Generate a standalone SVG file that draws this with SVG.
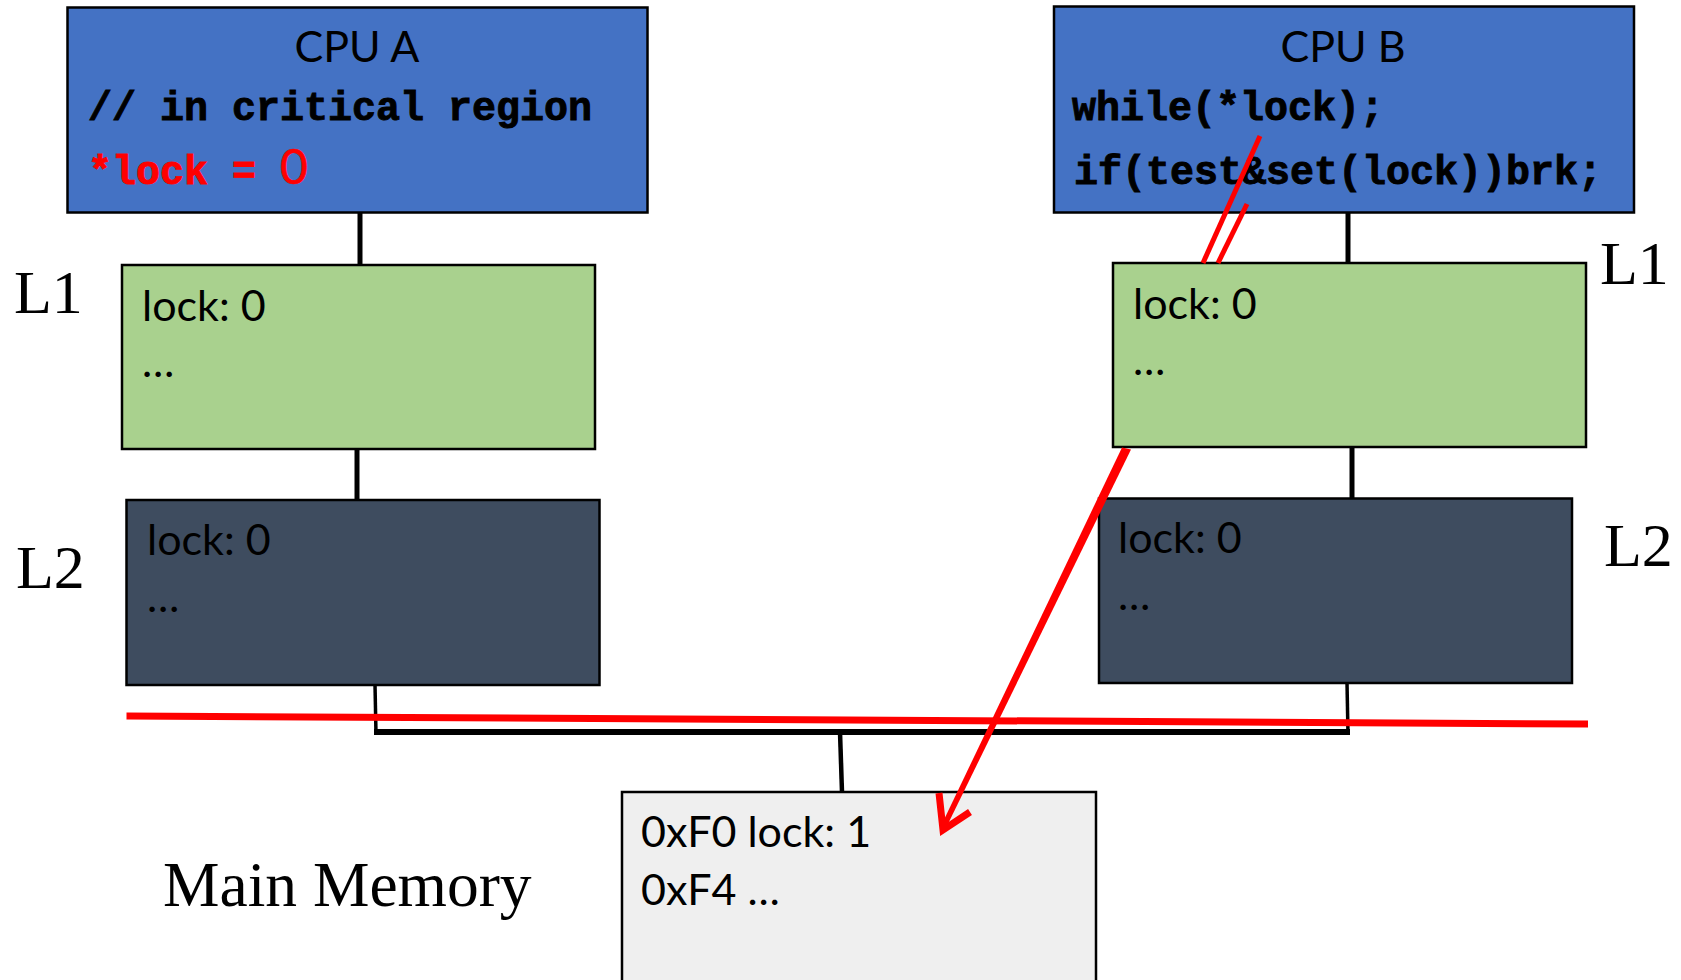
<svg xmlns="http://www.w3.org/2000/svg" width="1681" height="980" viewBox="0 0 1681 980">
  <style>
    .box { stroke: #000; stroke-width: 2.5; }
    .cpu { fill: #4472C4; }
    .l1 { fill: #A9D18E; }
    .l2 { fill: #3E4C5F; }
    .mem { fill: #EFEFEF; }
    .sans { font-family: Lato, "Open Sans", sans-serif; font-size: 43px; fill: #000; }
    .code { font-family: "Liberation Mono", "DejaVu Sans Mono", monospace; font-weight: bold; font-size: 40px; fill: #000; stroke: #000; stroke-width: 0.9; }
    .code-red { fill: #FF0000; stroke: #FF0000; }
    .serif { font-family: "Liberation Serif", "DejaVu Serif", serif; font-size: 62px; fill: #000; }
    .wire { stroke: #000; fill: none; }
    .red { stroke: #FF0000; fill: none; stroke-linecap: butt; }
  </style>

  <!-- bus and cache links -->
  <g id="connectors">
    <line class="wire" x1="360" y1="213" x2="360" y2="265" stroke-width="5"/>
    <line class="wire" x1="357" y1="449" x2="357" y2="500" stroke-width="5"/>
    <line class="wire" x1="1348" y1="213" x2="1348" y2="263" stroke-width="5"/>
    <line class="wire" x1="1352" y1="447" x2="1352" y2="498" stroke-width="5"/>
    <line class="wire" x1="375" y1="685" x2="376" y2="734" stroke-width="3.5"/>
    <line class="wire" x1="1347" y1="683" x2="1348" y2="734" stroke-width="3.5"/>
    <line class="wire" x1="374" y1="732" x2="1350" y2="732" stroke-width="6"/>
    <line class="wire" x1="840" y1="732" x2="842" y2="792" stroke-width="4.5"/>
  </g>

  <g id="cpu-a">
    <rect class="box cpu" x="67.5" y="7.5" width="580" height="205"/>
    <text class="sans" x="357" y="62" text-anchor="middle">CPU A</text>
    <text class="code" x="88" y="120">// in critical region</text>
    <text class="code code-red" x="88" y="184">*lock = <tspan style="font-family: Lato, 'Open Sans', sans-serif; font-weight: normal; font-size: 48px; stroke-width: 0.6;">0</tspan></text>
  </g>

  <g id="cpu-b">
    <rect class="box cpu" x="1054" y="6.5" width="580" height="206"/>
    <text class="sans" x="1343" y="62" text-anchor="middle">CPU B</text>
    <text class="code" x="1072" y="120">while(*lock);</text>
    <text class="code" x="1074" y="184">if(test&amp;set(lock))brk;</text>
  </g>

  <g id="l1-a">
    <rect class="box l1" x="122" y="265" width="473" height="184"/>
    <text class="sans" x="142" y="321">lock: 0</text>
    <text class="sans" x="142" y="377">…</text>
  </g>

  <g id="l2-a">
    <rect class="box l2" x="126.5" y="500" width="473" height="185"/>
    <text class="sans" x="147" y="555">lock: 0</text>
    <text class="sans" x="147" y="612">…</text>
  </g>

  <g id="l1-b">
    <rect class="box l1" x="1113" y="263" width="473" height="184"/>
    <text class="sans" x="1133" y="319">lock: 0</text>
    <text class="sans" x="1133" y="375">…</text>
  </g>

  <g id="l2-b">
    <rect class="box l2" x="1099" y="498.5" width="473" height="184.5"/>
    <text class="sans" x="1118" y="553">lock: 0</text>
    <text class="sans" x="1118" y="610">…</text>
  </g>

  <g id="main-memory">
    <rect class="box mem" x="622" y="792" width="474" height="200"/>
    <text class="sans" x="641" y="847">0xF0 lock: 1</text>
    <text class="sans" x="641" y="905">0xF4 …</text>
  </g>

  <!-- level labels -->
  <g id="labels">
    <text class="serif" x="14" y="313">L1</text>
    <text class="serif" x="16" y="588">L2</text>
    <text class="serif" x="1600" y="284">L1</text>
    <text class="serif" x="1604" y="566">L2</text>
    <text class="serif" x="163" y="906" style="font-size: 63.5px;">Main Memory</text>
  </g>

  <!-- red annotations: bus line and the lock read path -->
  <g id="annotations">
    <line class="red" x1="126.5" y1="716" x2="1588" y2="724" stroke-width="7"/>
    <line class="red" x1="1260" y1="136" x2="1203" y2="263" stroke-width="5"/>
    <line class="red" x1="1247" y1="204" x2="1218" y2="263" stroke-width="5"/>
    <polygon fill="#FF0000" points="1122,447.5 1131,449.5 945.5,829 940.5,827"/>
    <polyline class="red" points="939,793 943,830 970,812" stroke-width="7" stroke-linejoin="miter"/>
  </g>
</svg>
